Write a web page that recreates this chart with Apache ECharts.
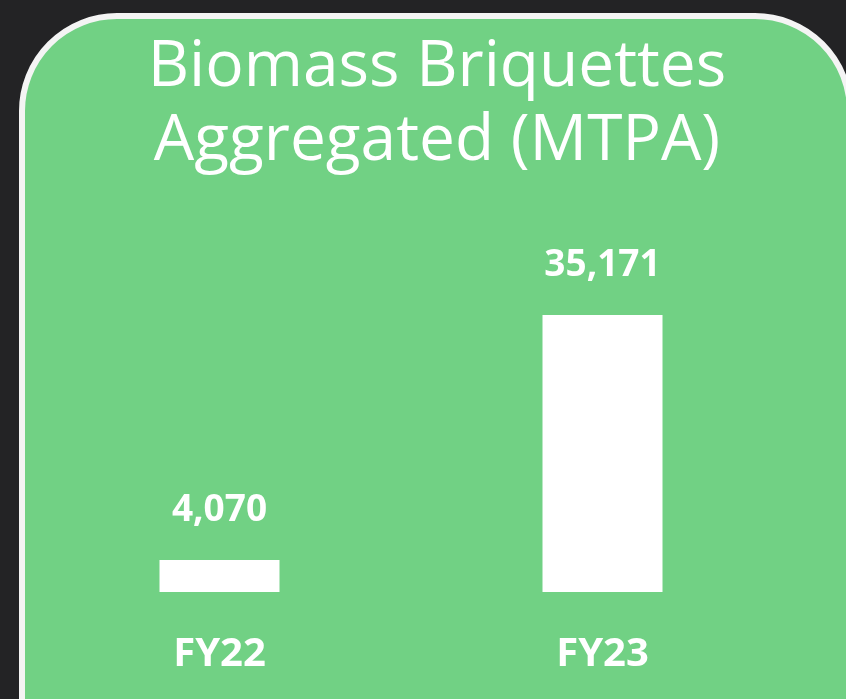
<!DOCTYPE html>
<html>
<head>
<meta charset="utf-8">
<script src="https://cdn.jsdelivr.net/npm/echarts@6/dist/echarts.min.js"></script>
<style>
  html, body { margin: 0; padding: 0; background: #232325; }
  #main { width: 846px; height: 699px; }
</style>
</head>
<body>
<div id="main"></div>
<script>
// data
var years = ['FY22', 'FY23'];
var briquettes = [4070, 35171];
var titleLines = ['Biomass Briquettes', 'Aggregated (MTPA)'];

var myChart = echarts.init(document.getElementById('main'));

var option = {
    backgroundColor: '#232325',
    animation: false,
    // green card behind the chart
    graphic: [
        {
            type: 'rect',
            z: -10,
            shape: { x: 22, y: 16, width: 828, height: 800, r: 95 },
            style: { fill: '#71d184', stroke: '#f4f4f4', lineWidth: 6 }
        }
    ],
    title: {
        text: titleLines.join('\n'),
        left: 432,
        top: 26,
        textAlign: 'center',
        textStyle: {
            color: '#ffffff',
            fontFamily: 'Open Sans',
            fontWeight: 'normal',
            fontSize: 64,
            lineHeight: 74
        }
    },
    grid: { left: 28, right: 52, top: 277, bottom: 107 },
    xAxis: {
        type: 'category',
        data: years,
        axisLine: { show: false },
        axisTick: { show: false },
        axisLabel: {
            color: '#ffffff',
            fontFamily: 'Open Sans',
            fontWeight: 'bold',
            fontSize: 40,
            margin: 43
        }
    },
    yAxis: {
        type: 'value',
        min: 0,
        max: 40000,
        show: false,
        splitLine: { show: false }
    },
    series: [
        {
            type: 'bar',
            data: briquettes,
            barWidth: 120,
            itemStyle: { color: '#ffffff' },
            label: {
                show: true,
                position: 'top',
                distance: 31,
                color: '#ffffff',
                fontFamily: 'Open Sans',
                fontWeight: 'bold',
                fontSize: 37,
                formatter: function(p) {
                    return p.value.toLocaleString('en-US');
                }
            }
        }
    ]
};

myChart.setOption(option);
</script>
</body>
</html>
